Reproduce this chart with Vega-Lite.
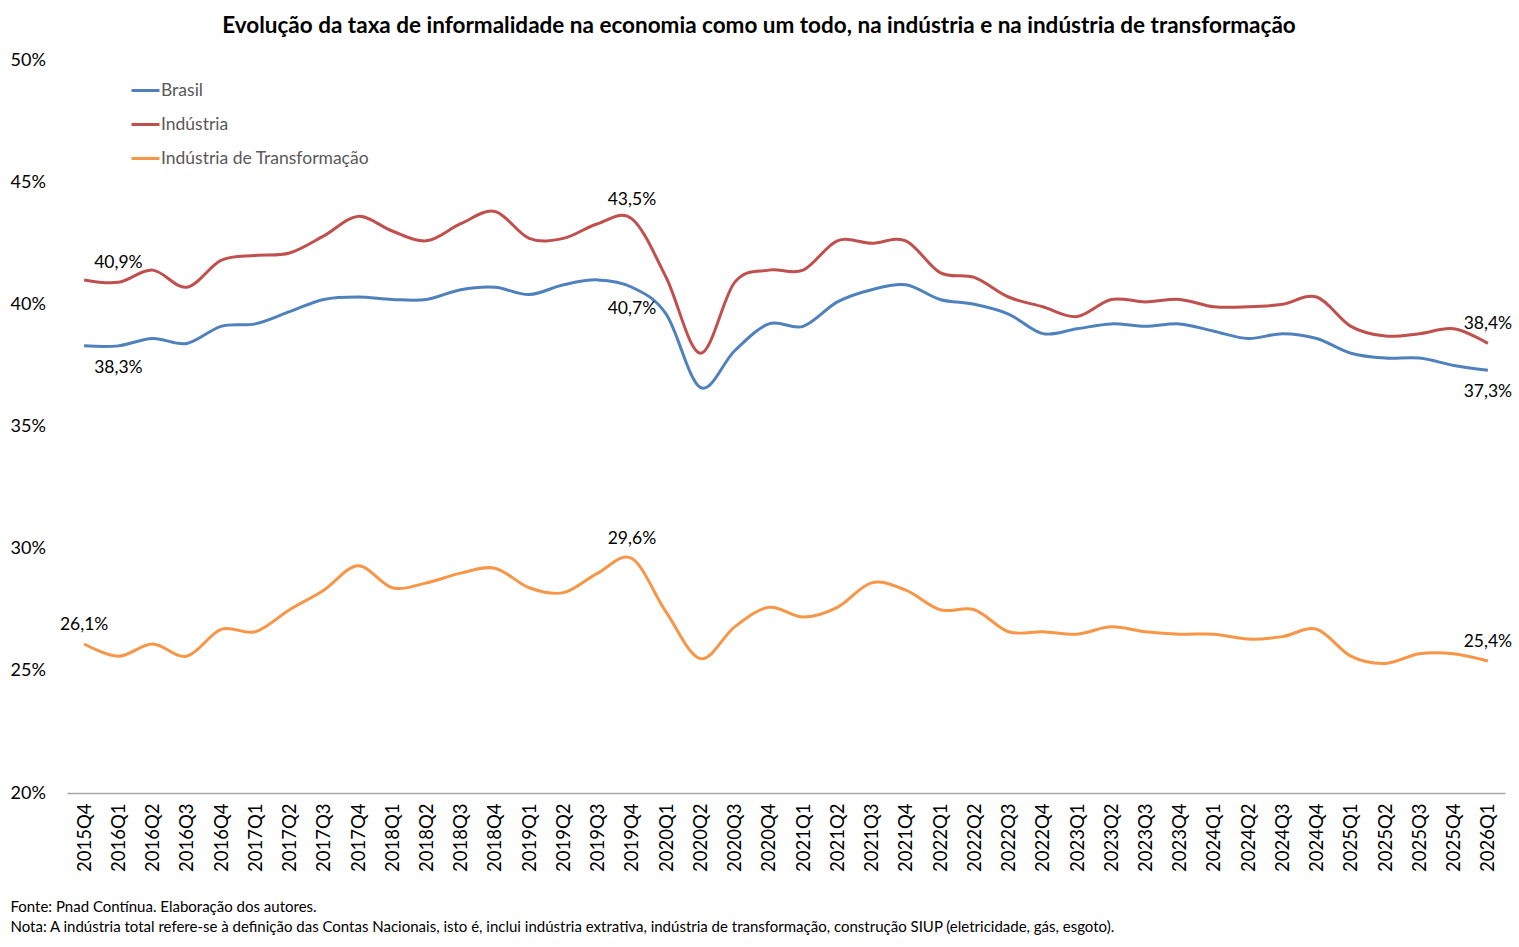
{
  "$schema": "https://vega.github.io/schema/vega-lite/v6.json",
  "autosize": "none",
  "width": 1438,
  "height": 733,
  "padding": {"left": 67, "top": 60, "right": 14, "bottom": 154},
  "background": "white",
  "config": {
    "font": "Lato",
    "view": {"stroke": null},
    "locale": {"number": {"decimal": ",", "thousands": ".", "grouping": [3], "currency": ["R$", ""]}}
  },
  "title": {
    "text": "Evolução da taxa de informalidade na economia como um todo, na indústria e na indústria de transformação",
    "fontSize": 22.5,
    "fontWeight": "bold",
    "color": "#000000",
    "anchor": "middle",
    "dx": -27,
    "offset": 14
  },
  "data": {
    "values": [
      {"t": "2015Q4", "Brasil": 0.383, "Indústria": 0.410, "Indústria de Transformação": 0.261},
      {"t": "2016Q1", "Brasil": 0.383, "Indústria": 0.409, "Indústria de Transformação": 0.256},
      {"t": "2016Q2", "Brasil": 0.386, "Indústria": 0.414, "Indústria de Transformação": 0.261},
      {"t": "2016Q3", "Brasil": 0.384, "Indústria": 0.407, "Indústria de Transformação": 0.256},
      {"t": "2016Q4", "Brasil": 0.391, "Indústria": 0.418, "Indústria de Transformação": 0.267},
      {"t": "2017Q1", "Brasil": 0.392, "Indústria": 0.420, "Indústria de Transformação": 0.266},
      {"t": "2017Q2", "Brasil": 0.397, "Indústria": 0.421, "Indústria de Transformação": 0.275},
      {"t": "2017Q3", "Brasil": 0.402, "Indústria": 0.428, "Indústria de Transformação": 0.283},
      {"t": "2017Q4", "Brasil": 0.403, "Indústria": 0.436, "Indústria de Transformação": 0.293},
      {"t": "2018Q1", "Brasil": 0.402, "Indústria": 0.430, "Indústria de Transformação": 0.284},
      {"t": "2018Q2", "Brasil": 0.402, "Indústria": 0.426, "Indústria de Transformação": 0.286},
      {"t": "2018Q3", "Brasil": 0.406, "Indústria": 0.433, "Indústria de Transformação": 0.290},
      {"t": "2018Q4", "Brasil": 0.407, "Indústria": 0.438, "Indústria de Transformação": 0.292},
      {"t": "2019Q1", "Brasil": 0.404, "Indústria": 0.427, "Indústria de Transformação": 0.284},
      {"t": "2019Q2", "Brasil": 0.408, "Indústria": 0.427, "Indústria de Transformação": 0.282},
      {"t": "2019Q3", "Brasil": 0.410, "Indústria": 0.433, "Indústria de Transformação": 0.290},
      {"t": "2019Q4", "Brasil": 0.407, "Indústria": 0.435, "Indústria de Transformação": 0.296},
      {"t": "2020Q1", "Brasil": 0.396, "Indústria": 0.411, "Indústria de Transformação": 0.274},
      {"t": "2020Q2", "Brasil": 0.366, "Indústria": 0.380, "Indústria de Transformação": 0.255},
      {"t": "2020Q3", "Brasil": 0.381, "Indústria": 0.409, "Indústria de Transformação": 0.268},
      {"t": "2020Q4", "Brasil": 0.392, "Indústria": 0.414, "Indústria de Transformação": 0.276},
      {"t": "2021Q1", "Brasil": 0.391, "Indústria": 0.414, "Indústria de Transformação": 0.272},
      {"t": "2021Q2", "Brasil": 0.401, "Indústria": 0.426, "Indústria de Transformação": 0.276},
      {"t": "2021Q3", "Brasil": 0.406, "Indústria": 0.425, "Indústria de Transformação": 0.286},
      {"t": "2021Q4", "Brasil": 0.408, "Indústria": 0.426, "Indústria de Transformação": 0.283},
      {"t": "2022Q1", "Brasil": 0.402, "Indústria": 0.413, "Indústria de Transformação": 0.275},
      {"t": "2022Q2", "Brasil": 0.400, "Indústria": 0.411, "Indústria de Transformação": 0.275},
      {"t": "2022Q3", "Brasil": 0.396, "Indústria": 0.403, "Indústria de Transformação": 0.266},
      {"t": "2022Q4", "Brasil": 0.388, "Indústria": 0.399, "Indústria de Transformação": 0.266},
      {"t": "2023Q1", "Brasil": 0.390, "Indústria": 0.395, "Indústria de Transformação": 0.265},
      {"t": "2023Q2", "Brasil": 0.392, "Indústria": 0.402, "Indústria de Transformação": 0.268},
      {"t": "2023Q3", "Brasil": 0.391, "Indústria": 0.401, "Indústria de Transformação": 0.266},
      {"t": "2023Q4", "Brasil": 0.392, "Indústria": 0.402, "Indústria de Transformação": 0.265},
      {"t": "2024Q1", "Brasil": 0.389, "Indústria": 0.399, "Indústria de Transformação": 0.265},
      {"t": "2024Q2", "Brasil": 0.386, "Indústria": 0.399, "Indústria de Transformação": 0.263},
      {"t": "2024Q3", "Brasil": 0.388, "Indústria": 0.400, "Indústria de Transformação": 0.264},
      {"t": "2024Q4", "Brasil": 0.386, "Indústria": 0.403, "Indústria de Transformação": 0.267},
      {"t": "2025Q1", "Brasil": 0.380, "Indústria": 0.391, "Indústria de Transformação": 0.256},
      {"t": "2025Q2", "Brasil": 0.378, "Indústria": 0.387, "Indústria de Transformação": 0.253},
      {"t": "2025Q3", "Brasil": 0.378, "Indústria": 0.388, "Indústria de Transformação": 0.257},
      {"t": "2025Q4", "Brasil": 0.375, "Indústria": 0.390, "Indústria de Transformação": 0.257},
      {"t": "2026Q1", "Brasil": 0.373, "Indústria": 0.384, "Indústria de Transformação": 0.254}
    ]
  },
  "transform": [
    {"fold": ["Brasil", "Indústria", "Indústria de Transformação"], "as": ["serie", "valor"]}
  ],
  "encoding": {
    "x": {
      "field": "t",
      "type": "ordinal",
      "sort": "ascending",
      "axis": {
        "labelAngle": -90,
        "labelAlign": "right",
        "labelBaseline": "middle",
        "labelFontSize": 18.5,
        "labelColor": "#000000",
        "labelPadding": 10,
        "ticks": false,
        "domainColor": "#A6A6A6",
        "domainWidth": 1.3,
        "grid": false,
        "title": [
          "Fonte: Pnad Contínua. Elaboração dos autores.",
          "Nota: A indústria total refere-se à definição das Contas Nacionais, isto é, inclui indústria extrativa, indústria de transformação, construção SIUP (eletricidade, gás, esgoto)."
        ],
        "titleFontSize": 15,
        "titleFontWeight": "normal",
        "titleColor": "#000000",
        "titleAlign": "left",
        "titleAnchor": "start",
        "titleBaseline": "top",
        "titleLineHeight": 20,
        "titleX": -57,
        "titleY": 106
      }
    },
    "y": {
      "field": "valor",
      "type": "quantitative",
      "scale": {"domain": [0.2, 0.5], "nice": false, "zero": false},
      "axis": {
        "values": [0.2, 0.25, 0.3, 0.35, 0.4, 0.45, 0.5],
        "format": ".0%",
        "labelAlign": "left",
        "labelBaseline": "middle",
        "labelFontSize": 18,
        "labelColor": "#000000",
        "labelPadding": 57,
        "tickSize": 0,
        "ticks": false,
        "domain": false,
        "grid": false,
        "title": null
      }
    },
    "color": {
      "field": "serie",
      "type": "nominal",
      "scale": {
        "domain": ["Brasil", "Indústria", "Indústria de Transformação"],
        "range": ["#4F81BD", "#C0504D", "#F79646"]
      },
      "legend": {
        "title": null,
        "orient": "none",
        "legendX": 63,
        "legendY": 15,
        "symbolType": "stroke",
        "symbolSize": 784,
        "symbolStrokeWidth": 3,
        "labelFontSize": 17.5,
        "labelColor": "#595959",
        "labelOffset": 0,
        "labelLimit": 0,
        "rowPadding": 10
      }
    }
  },
  "layer": [
    {
      "mark": {"type": "line", "interpolate": "cardinal", "strokeWidth": 3}
    },
    {
      "transform": [
        {"filter": "(datum.serie != 'Indústria de Transformação' && indexof(['2016Q1','2019Q4','2026Q1'], datum.t) >= 0) || (datum.serie == 'Indústria de Transformação' && indexof(['2015Q4','2019Q4','2026Q1'], datum.t) >= 0)"},
        {"filter": "datum.serie != 'Brasil'"}
      ],
      "mark": {"type": "text", "fontSize": 17.5, "color": "#000000", "baseline": "middle", "dy": -19},
      "encoding": {
        "text": {"field": "valor", "type": "quantitative", "format": ".1%"},
        "color": {"value": "#000000"}
      }
    },
    {
      "transform": [
        {"filter": "datum.serie == 'Brasil' && indexof(['2016Q1','2019Q4','2026Q1'], datum.t) >= 0"}
      ],
      "mark": {"type": "text", "fontSize": 17.5, "color": "#000000", "baseline": "middle", "dy": 22},
      "encoding": {
        "text": {"field": "valor", "type": "quantitative", "format": ".1%"},
        "color": {"value": "#000000"}
      }
    }
  ]
}
